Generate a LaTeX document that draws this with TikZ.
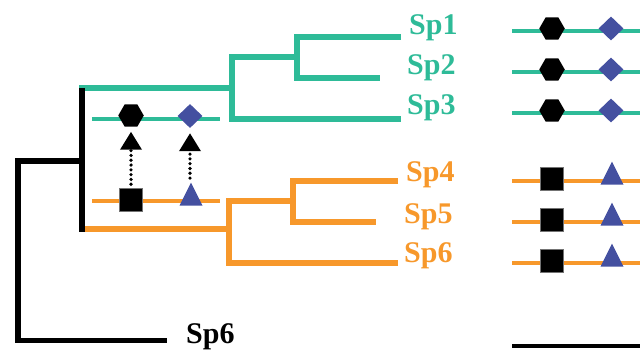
\documentclass[tikz,border=0pt]{standalone}
\usepackage{fontspec}
\setmainfont{Liberation Serif}
\usetikzlibrary{shapes.geometric,arrows.meta}
\definecolor{tealc}{RGB}{46,187,152}
\definecolor{orngc}{RGB}{247,152,43}
\definecolor{bluc}{RGB}{68,80,160}
\begin{document}
\begin{tikzpicture}[x=1pt,y=-1pt,
 branch/.style={line width=5.6pt, line join=miter},
 trait/.style={line width=4pt},
 hexa/.style={regular polygon, regular polygon sides=6, fill=black, minimum size=25.5pt, inner sep=0pt},
 dia/.style={diamond, fill=bluc, minimum width=25pt, minimum height=24pt, inner sep=0pt},
 sq/.style={rectangle, fill=black, draw=black!55, line width=0.5pt, minimum size=23pt, inner sep=0pt},
 tri/.style={isosceles triangle, isosceles triangle stretches, shape border rotate=90, fill=bluc, minimum width=23pt, minimum height=23pt, inner sep=0pt},
 lab/.style={anchor=base west, inner sep=0pt, font=\fontsize{30}{36}\selectfont\bfseries},
 evo/.style={line width=3.6pt, dash pattern=on 0pt off 4.8pt, line cap=round, -{Triangle[width=21pt,length=18pt]}, shorten <=4pt, shorten >=5pt}
]
\useasboundingbox (0,0) rectangle (640,350);

% outgroup and root
\draw[branch] (82,161) -- (18,161) -- (18,340.5) -- (167,340.5);
\draw[branch,tealc] (79,88) -- (232,88);
\draw[branch,orngc] (82,229) -- (229,229);
\draw[branch] (82,88) -- (82,232);

% teal clade
\draw[branch,tealc] (297,57) -- (232,57) -- (232,119) -- (401,119);
\draw[branch,tealc] (401,37) -- (297,37) -- (297,78) -- (380,78);

% orange clade
\draw[branch,orngc] (293,201) -- (229,201) -- (229,263) -- (398,263);
\draw[branch,orngc] (398,181) -- (293,181) -- (293,222) -- (376,222);

% labels
\node[lab,tealc] (sp1) at (409,35) {Sp1};
\node[lab,tealc] (sp2) at (407,75) {Sp2};
\node[lab,tealc] (sp3) at (407,115) {Sp3};
\node[lab,orngc] (sp4) at (406,182) {Sp4};
\node[lab,orngc] (sp5) at (404,223) {Sp5};
\node[lab,orngc] (sp6) at (404,262) {Sp6};
\node[lab] (sp6b) at (186,343) {Sp6};

% ancestral traits
\draw[trait,tealc] (92,119) -- (220,119);
\draw[trait,orngc] (92,201) -- (220,201);
\node[hexa] (hexL) at (131,115.5) {};
\node[dia] (diaL) at (190,116) {};
\node[sq] (sqL) at (131,200) {};
\node[tri] (triL) at (191,198.5) {};
\draw[evo] (sqL.north) -- (hexL.south);
\draw[evo] (diaL.south |- triL.north) -- (diaL.south);

% tip traits
\foreach \i/\y in {1/31,2/72,3/113}{
  \draw[trait,tealc] (512,\y) -- (640,\y);
  \node[hexa] (hexR\i) at (552,\y-2.5) {};
  \node[dia] (diaR\i) at (611,\y-2.5) {};
}
\foreach \i/\y in {4/181,5/222,6/263}{
  \draw[trait,orngc] (512,\y) -- (640,\y);
  \node[sq] (sqR\i) at (552,\y-2) {};
  \node[tri] (triR\i) at (612,\y-3.5) {};
}
\draw[line width=4pt] (512,346) -- (640,346);
\end{tikzpicture}
\end{document}
